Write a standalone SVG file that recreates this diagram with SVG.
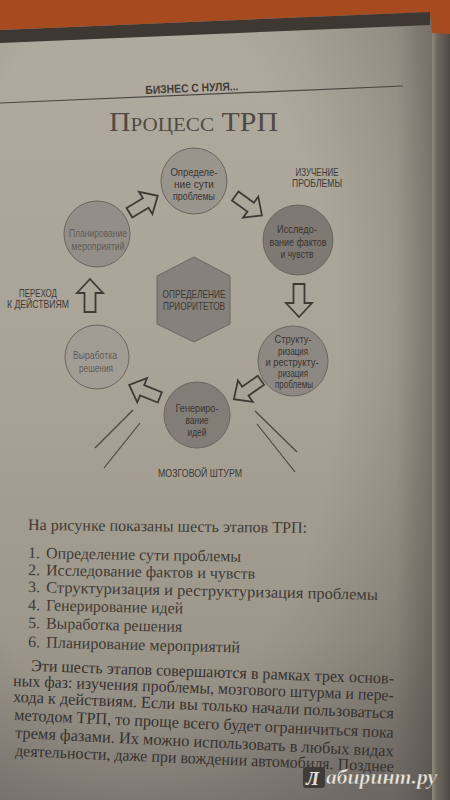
<svg xmlns="http://www.w3.org/2000/svg" width="450" height="800" viewBox="0 0 450 800">
<defs>
<linearGradient id="pg" x1="0" y1="0" x2="0" y2="1">
<stop offset="0" stop-color="#b1ab9f"/>
<stop offset="0.45" stop-color="#aaa498"/>
<stop offset="0.8" stop-color="#9d978b"/>
<stop offset="1" stop-color="#86817a"/>
</linearGradient>
<linearGradient id="rs" x1="0" y1="0" x2="1" y2="0">
<stop offset="0" stop-color="#000" stop-opacity="0"/>
<stop offset="1" stop-color="#000" stop-opacity="0.18"/>
</linearGradient>
<radialGradient id="vg" cx="0.3" cy="0.45" r="0.75">
<stop offset="0.6" stop-color="#000" stop-opacity="0"/>
<stop offset="1" stop-color="#000" stop-opacity="0.2"/>
</radialGradient>
<linearGradient id="edge" x1="0" y1="0" x2="1" y2="0">
<stop offset="0" stop-color="#8e887e"/>
<stop offset="0.3" stop-color="#6c665d"/>
<stop offset="1" stop-color="#4f4a44"/>
</linearGradient>
<path id="arr" d="M-17,-5.5 H2 V-13 L16,0 L2,13 V5.5 H-17 Z"/>
<style>
.ser{font-family:"Liberation Serif","DejaVu Serif",serif;fill:#3f3a35}
.cond{font-family:"Liberation Sans","DejaVu Sans",sans-serif;text-anchor:middle}
.ct{font-size:11.5px;fill:#3a3632}
.cs{font-size:10px;fill:#3a3632}
.lt{font-size:11.5px;fill:#625d57}
.lab{font-size:11.5px;fill:#3d3934}
.circ{stroke:#6a655f;stroke-width:1}
.ar{fill:none;stroke:#3f3a35;stroke-width:1.8;stroke-linejoin:miter}
.ln{stroke:#4a4540;stroke-width:1.2;fill:none}
.body{font-size:16px}
.par{font-size:16.5px;fill:#36312d}
</style>
</defs>

<!-- background photo -->
<rect x="0" y="0" width="450" height="800" fill="url(#pg)"/>
<rect x="0" y="0" width="450" height="800" fill="url(#vg)"/>
<rect x="395" y="0" width="38" height="800" fill="url(#rs)"/>
<rect x="432" y="0" width="18" height="800" fill="url(#edge)"/>
<polygon points="0,0 450,0 450,34 432,33 430,12 0,30" fill="#a74a1f"/>
<polygon points="0,30 430,12 430,25 0,43" fill="#3e3732"/>

<!-- header -->
<line x1="0" y1="103" x2="403" y2="86" stroke="#4a4540" stroke-width="1.2"/>
<text x="192" y="92" class="cond" transform="rotate(-2.4 192 92)" style="font-size:11.5px;fill:#403b36;font-weight:bold" textLength="93" lengthAdjust="spacingAndGlyphs">БИЗНЕС С НУЛЯ...</text>
<text x="109" y="131" class="ser" style="font-size:27px;font-variant:small-caps;fill:#4f4a44" textLength="169" lengthAdjust="spacingAndGlyphs">Процесс ТРП</text>

<!-- connectors -->
<g id="connectors">
<use href="#arr" class="ar" transform="translate(144,204) rotate(-31)"/>
<use href="#arr" class="ar" transform="translate(249,206) rotate(36)"/>
<use href="#arr" class="ar" transform="translate(299,301) rotate(90)"/>
<use href="#arr" class="ar" transform="translate(247,390) rotate(145)"/>
<use href="#arr" class="ar" transform="translate(144,391) rotate(202)"/>
<use href="#arr" class="ar" transform="translate(90,295) rotate(-90)"/>
<line class="ln" x1="133" y1="410" x2="95" y2="448"/>
<line class="ln" x1="140" y1="423" x2="104" y2="468"/>
<line class="ln" x1="255" y1="411" x2="297" y2="452"/>
<line class="ln" x1="257" y1="424" x2="295" y2="472"/>
</g>

<!-- nodes -->
<g id="node-center">
<polygon points="194,257 230,276 230,324 194,342 157,324 157,276" fill="#86817b" stroke="#6b6660" stroke-width="1"/>
<text class="cond lab" x="194" y="298" textLength="63" lengthAdjust="spacingAndGlyphs">ОПРЕДЕЛЕНИЕ</text>
<text class="cond lab" x="194" y="310" textLength="62" lengthAdjust="spacingAndGlyphs">ПРИОРИТЕТОВ</text>
</g>

<g id="node-1">
<circle class="circ" cx="194" cy="181" r="33" fill="#99948c"/>
<text class="cond ct" x="194" y="176" textLength="47" lengthAdjust="spacingAndGlyphs">Определе-</text>
<text class="cond ct" x="194" y="188" textLength="40" lengthAdjust="spacingAndGlyphs">ние сути</text>
<text class="cond ct" x="194" y="200" textLength="42" lengthAdjust="spacingAndGlyphs">проблемы</text>
</g>

<g id="node-2">
<circle class="circ" cx="298" cy="240" r="35" fill="#7e7973"/>
<text class="cond ct" x="297" y="233" textLength="40" lengthAdjust="spacingAndGlyphs">Исследо-</text>
<text class="cond ct" x="298" y="246" textLength="57" lengthAdjust="spacingAndGlyphs">вание фактов</text>
<text class="cond ct" x="297" y="258" textLength="33" lengthAdjust="spacingAndGlyphs">и чувств</text>
</g>

<g id="node-3">
<circle class="circ" cx="293" cy="361" r="35" fill="#8d8882"/>
<text class="cond cs" x="293" y="343" textLength="37" lengthAdjust="spacingAndGlyphs">Структу-</text>
<text class="cond cs" x="293" y="354.5" textLength="30" lengthAdjust="spacingAndGlyphs">ризация</text>
<text class="cond cs" x="292" y="365.5" textLength="53" lengthAdjust="spacingAndGlyphs">и реструкту-</text>
<text class="cond cs" x="293" y="376.5" textLength="30" lengthAdjust="spacingAndGlyphs">ризация</text>
<text class="cond cs" x="294" y="387.5" textLength="38" lengthAdjust="spacingAndGlyphs">проблемы</text>
</g>

<g id="node-4">
<circle class="circ" cx="197" cy="415" r="33" fill="#827d77"/>
<text class="cond ct" x="197" y="412" textLength="43" lengthAdjust="spacingAndGlyphs">Генериро-</text>
<text class="cond ct" x="197" y="424" textLength="23" lengthAdjust="spacingAndGlyphs">вание</text>
<text class="cond ct" x="197" y="436" textLength="19" lengthAdjust="spacingAndGlyphs">идей</text>
</g>

<g id="node-5">
<circle class="circ" cx="97" cy="357" r="32" fill="#a19c94"/>
<text class="cond lt" x="95" y="359" textLength="44" lengthAdjust="spacingAndGlyphs">Выработка</text>
<text class="cond lt" x="96" y="372" textLength="34" lengthAdjust="spacingAndGlyphs">решения</text>
</g>

<g id="node-6">
<circle class="circ" cx="97" cy="234" r="33" fill="#938e87"/>
<text class="cond lt" x="98" y="237" textLength="58" lengthAdjust="spacingAndGlyphs">Планирование</text>
<text class="cond lt" x="98" y="250" textLength="53" lengthAdjust="spacingAndGlyphs">мероприятий</text>
</g>

<!-- phase labels -->
<text class="cond lab" x="317" y="176" textLength="43" lengthAdjust="spacingAndGlyphs">ИЗУЧЕНИЕ</text>
<text class="cond lab" x="317" y="187" textLength="50" lengthAdjust="spacingAndGlyphs">ПРОБЛЕМЫ</text>
<text class="cond lab" x="38" y="297" textLength="38" lengthAdjust="spacingAndGlyphs">ПЕРЕХОД</text>
<text class="cond lab" x="38" y="308" textLength="62" lengthAdjust="spacingAndGlyphs">К ДЕЙСТВИЯМ</text>
<text class="cond lab" x="200" y="477" textLength="84" lengthAdjust="spacingAndGlyphs">МОЗГОВОЙ ШТУРМ</text>

<!-- body text -->
<g class="ser body">
<text x="28" y="530" transform="rotate(0.6 28 530)" textLength="279" lengthAdjust="spacingAndGlyphs">На рисунке показаны шесть этапов ТРП:</text>
<text x="28" y="558" transform="rotate(1 28 558)">1.</text>
<text x="46" y="558" transform="rotate(1 28 558)" textLength="195" lengthAdjust="spacingAndGlyphs">Определение сути проблемы</text>
<text x="28" y="575" transform="rotate(1 28 575)">2.</text>
<text x="46" y="575" transform="rotate(1 28 575)" textLength="209" lengthAdjust="spacingAndGlyphs">Исследование фактов и чувств</text>
<text x="28" y="592" transform="rotate(1.3 28 592)">3.</text>
<text x="46" y="592" transform="rotate(1.3 28 592)" textLength="332" lengthAdjust="spacingAndGlyphs">Структуризация и реструктуризация проблемы</text>
<text x="28" y="610" transform="rotate(1.3 28 610)">4.</text>
<text x="46" y="610" transform="rotate(1.3 28 610)" textLength="137" lengthAdjust="spacingAndGlyphs">Генерирование идей</text>
<text x="28" y="628" transform="rotate(1.5 28 628)">5.</text>
<text x="46" y="628" transform="rotate(1.5 28 628)" textLength="136" lengthAdjust="spacingAndGlyphs">Выработка решения</text>
<text x="28" y="647" transform="rotate(1.5 28 647)">6.</text>
<text x="46" y="647" transform="rotate(1.5 28 647)" textLength="194" lengthAdjust="spacingAndGlyphs">Планирование мероприятий</text>
</g>
<g class="ser par">
<text x="31" y="671" transform="rotate(2 31 671)" textLength="363" lengthAdjust="spacingAndGlyphs">Эти шесть этапов совершаются в рамках трех основ-</text>
<text x="13" y="686" transform="rotate(2.2 13 686)" textLength="381" lengthAdjust="spacingAndGlyphs">ных фаз: изучения проблемы, мозгового штурма и пере-</text>
<text x="13" y="702" transform="rotate(2.5 13 702)" textLength="381" lengthAdjust="spacingAndGlyphs">хода к действиям. Если вы только начали пользоваться</text>
<text x="14" y="720" transform="rotate(2.7 14 720)" textLength="380" lengthAdjust="spacingAndGlyphs">методом ТРП, то проще всего будет ограничиться пока</text>
<text x="15" y="738" transform="rotate(2.8 15 738)" textLength="379" lengthAdjust="spacingAndGlyphs">тремя фазами. Их можно использовать в любых видах</text>
<text x="15" y="756" transform="rotate(2.4 15 756)" textLength="379" lengthAdjust="spacingAndGlyphs">деятельности, даже при вождении автомобиля. Позднее</text>
</g>

<!-- watermark -->
<rect x="303" y="767" width="22" height="21" rx="3" fill="#3a3734" opacity="0.92"/>
<text x="306" y="785" style="font-family:'Liberation Serif',serif;font-size:19px;font-weight:bold;font-style:italic;fill:#e6e2da">Л</text>
<text x="326" y="784" textLength="111" lengthAdjust="spacingAndGlyphs" style="font-family:'Liberation Serif',serif;font-size:21px;font-weight:bold;font-style:italic;fill:#ebe7df;stroke:#5a5650;stroke-width:0.4">абиринт.ру</text>
</svg>
